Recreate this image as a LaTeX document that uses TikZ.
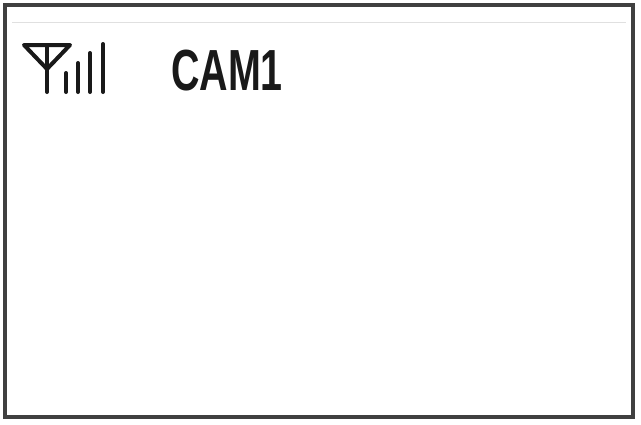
\documentclass[tikz,border=0pt]{standalone}
\usepackage{fontspec}
\setmainfont{Liberation Sans}
\begin{document}
\begin{tikzpicture}[x=1pt,y=-1pt,
  frame/.style={draw=black!75,line width=3.5pt},
  icon/.style={draw=black!90,line width=4pt,line cap=round,line join=round}]
\useasboundingbox (0,0) rectangle (641,424);
\fill[white] (0,0) rectangle (641,424);
\draw[frame] (5,5) rectangle (633,417);
\draw[black!12,line width=1pt] (12,22) -- (626,22);
% antenna
\draw[icon] (24,45) -- (70,45) -- (47,69) -- cycle;
\draw[icon] (47,45) -- (47,92);
\draw[icon] (66,73) -- (66,92);
\draw[icon] (78,63) -- (78,92);
\draw[icon] (90,53) -- (90,92);
\draw[icon] (103,44) -- (103,92);
\node[anchor=base west,inner sep=0pt,xscale=0.68,font=\bfseries\fontsize{58}{58}\selectfont,text=black!90] (cam) at (171,90) {CAM1};
\end{tikzpicture}
\end{document}
